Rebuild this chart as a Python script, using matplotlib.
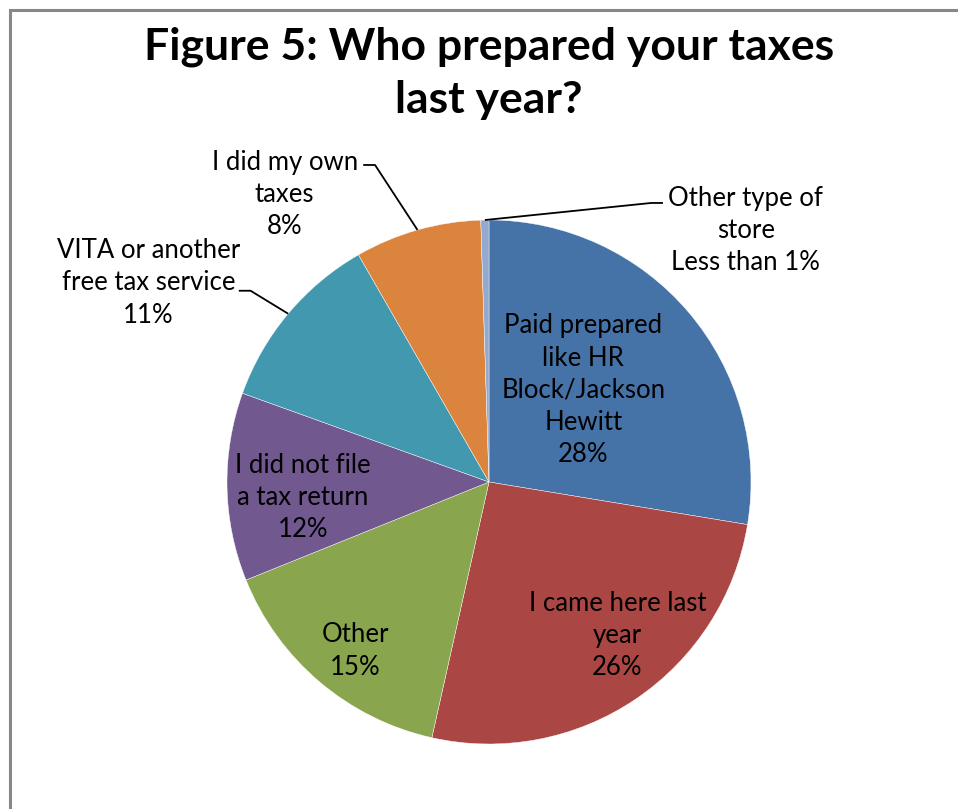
import numpy as np
import matplotlib
matplotlib.use("Agg")
import matplotlib.pyplot as plt
from matplotlib.patches import Rectangle

plt.rcParams["font.family"] = ["Lato", "DejaVu Sans"]

# Survey answers, clockwise from 12 o'clock
labels = [
    "Paid prepared\nlike HR\nBlock/Jackson\nHewitt",
    "I came here last\nyear",
    "Other",
    "I did not file\na tax return",
    "VITA or another\nfree tax service",
    "I did my own\ntaxes",
    "Other type of\nstore",
]
shares = [27.6, 25.9, 15.4, 11.6, 11.2, 7.8, 0.5]
colors = ["#4572A7", "#AA4643", "#89A54E", "#71588F", "#4198AF", "#DB843D", "#93A9CF"]

# label placement in pie units (radius = 1); None means no leader line
label_pos = [
    (0.36, 0.35), (0.49, -0.585), (-0.51, -0.645), (-0.71, -0.06),
    (-1.30, 0.76), (-0.78, 1.098), (0.98, 0.96),
]
leader_end = [None, None, None, None, (-0.955, 0.73), (-0.48, 1.21), (0.664, 1.065)]

W, H = 958, 809
cx, cy, R = 489, 482, 262

fig = plt.figure(figsize=(W / 100, H / 100), dpi=100)
ax = fig.add_axes([0, 0, 1, 1])

wedges, _ = ax.pie(shares, colors=colors, startangle=90, counterclock=False,
                   radius=1, center=(0, 0), frame=True,
                   wedgeprops=dict(edgecolor="white", linewidth=0.3))
ax.set_xlim(-cx / R, (W - cx) / R)
ax.set_ylim(-(H - cy) / R, cy / R)
ax.set_aspect("auto")
ax.axis("off")

for w, lab, val, pos, end in zip(wedges, labels, shares, label_pos, leader_end):
    pct = "Less than 1%" if val < 1 else f"{val:.0f}%"
    ax.text(pos[0], pos[1], f"{lab}\n{pct}", ha="center", va="center",
            fontsize=18.5, linespacing=1.36, color="black")
    if end is not None:
        mid = np.deg2rad((w.theta1 + w.theta2) / 2)
        ex, ey = np.cos(mid), np.sin(mid)
        side = 1 if end[0] > ex else -1
        elbow = (end[0] - side * 0.045, end[1])
        ax.plot([ex, elbow[0], end[0]], [ey, elbow[1], end[1]],
                color="black", lw=1.3, solid_capstyle="butt")

fig.text(cx / W, 1 - 73 / H, "Figure 5: Who prepared your taxes\nlast year?",
         ha="center", va="center", fontsize=32, fontweight="bold", linespacing=1.38)

# chart-area border, running off the right and bottom edges
fig.patches.append(Rectangle((9.5 / W, -0.1), 1.2, 1 - 9.5 / H + 0.1,
                             transform=fig.transFigure, fill=False,
                             edgecolor="#878787", linewidth=2.2))

fig.savefig("out.png", dpi=100)
